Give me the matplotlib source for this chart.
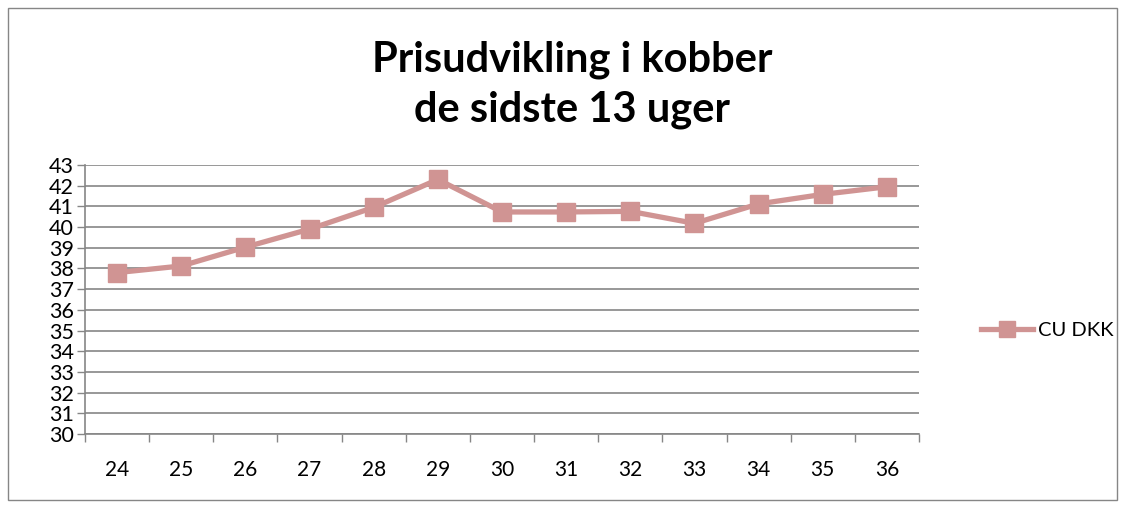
import matplotlib
matplotlib.use("Agg")
import matplotlib.pyplot as plt
from matplotlib.patches import Rectangle

weeks = [24, 25, 26, 27, 28, 29, 30, 31, 32, 33, 34, 35, 36]
cu_dkk = [37.8, 38.12, 39.03, 39.9, 40.95, 42.3, 40.73, 40.73, 40.76, 40.18, 41.12, 41.58, 41.95]
series_name = "CU DKK"
title = "Prisudvikling i kobber\nde sidste 13 uger"
yticks = list(range(30, 44))

plt.rcParams['font.family'] = ['Lato', 'DejaVu Sans']

W, H = 1123, 509
fig = plt.figure(figsize=(W / 100, H / 100), dpi=100)
left, right, top, bottom = 85, 919, 165, 434
ax = fig.add_axes([left / W, 1 - bottom / H, (right - left) / W, (bottom - top) / H])

grid_c = '#868686'
line_c = '#D09493'

x = list(range(len(weeks)))
ax.plot(x, cu_dkk, color=line_c, lw=3.8, marker='s', markersize=13,
        markerfacecolor=line_c, markeredgecolor=line_c, label=series_name, zorder=3)

ax.set_xlim(-0.5, len(weeks) - 0.5)
ax.set_ylim(30, 43)
ax.set_yticks(yticks)
ax.set_yticklabels([str(v) for v in yticks], fontsize=15.5)
ax.yaxis.grid(True, color=grid_c, lw=1.2)
ax.set_axisbelow(True)

ax.set_xticks([i - 0.5 for i in range(len(weeks) + 1)])
ax.set_xticklabels([])
ax.set_xticks(x, minor=True)
ax.set_xticklabels([str(w) for w in weeks], minor=True, fontsize=15)
ax.tick_params(axis='x', which='major', length=6, color=grid_c, width=1)
ax.tick_params(axis='x', which='minor', length=0, pad=19)
ax.tick_params(axis='y', length=6, color=grid_c, width=1, pad=2)

for s in ['top', 'right']:
    ax.spines[s].set_visible(False)
for s in ['left', 'bottom']:
    ax.spines[s].set_color(grid_c)
    ax.spines[s].set_linewidth(1.2)

fig.text(572 / W, 1 - 85 / H, title, ha='center', va='center', fontsize=30,
         fontweight='bold', linespacing=1.38)

leg = fig.legend(loc='center left', bbox_to_anchor=(973 / W, 1 - 330 / H), frameon=False,
                 fontsize=14.5, handlelength=2.6, handletextpad=0.25, borderaxespad=0,
                 markerscale=0.85)

fig.patches.append(Rectangle((8 / W, 1 - 500 / H), 1109 / W, 492 / H, transform=fig.transFigure,
                             fill=False, edgecolor=grid_c, lw=1))

fig.savefig('out.png', dpi=100, facecolor='white')
